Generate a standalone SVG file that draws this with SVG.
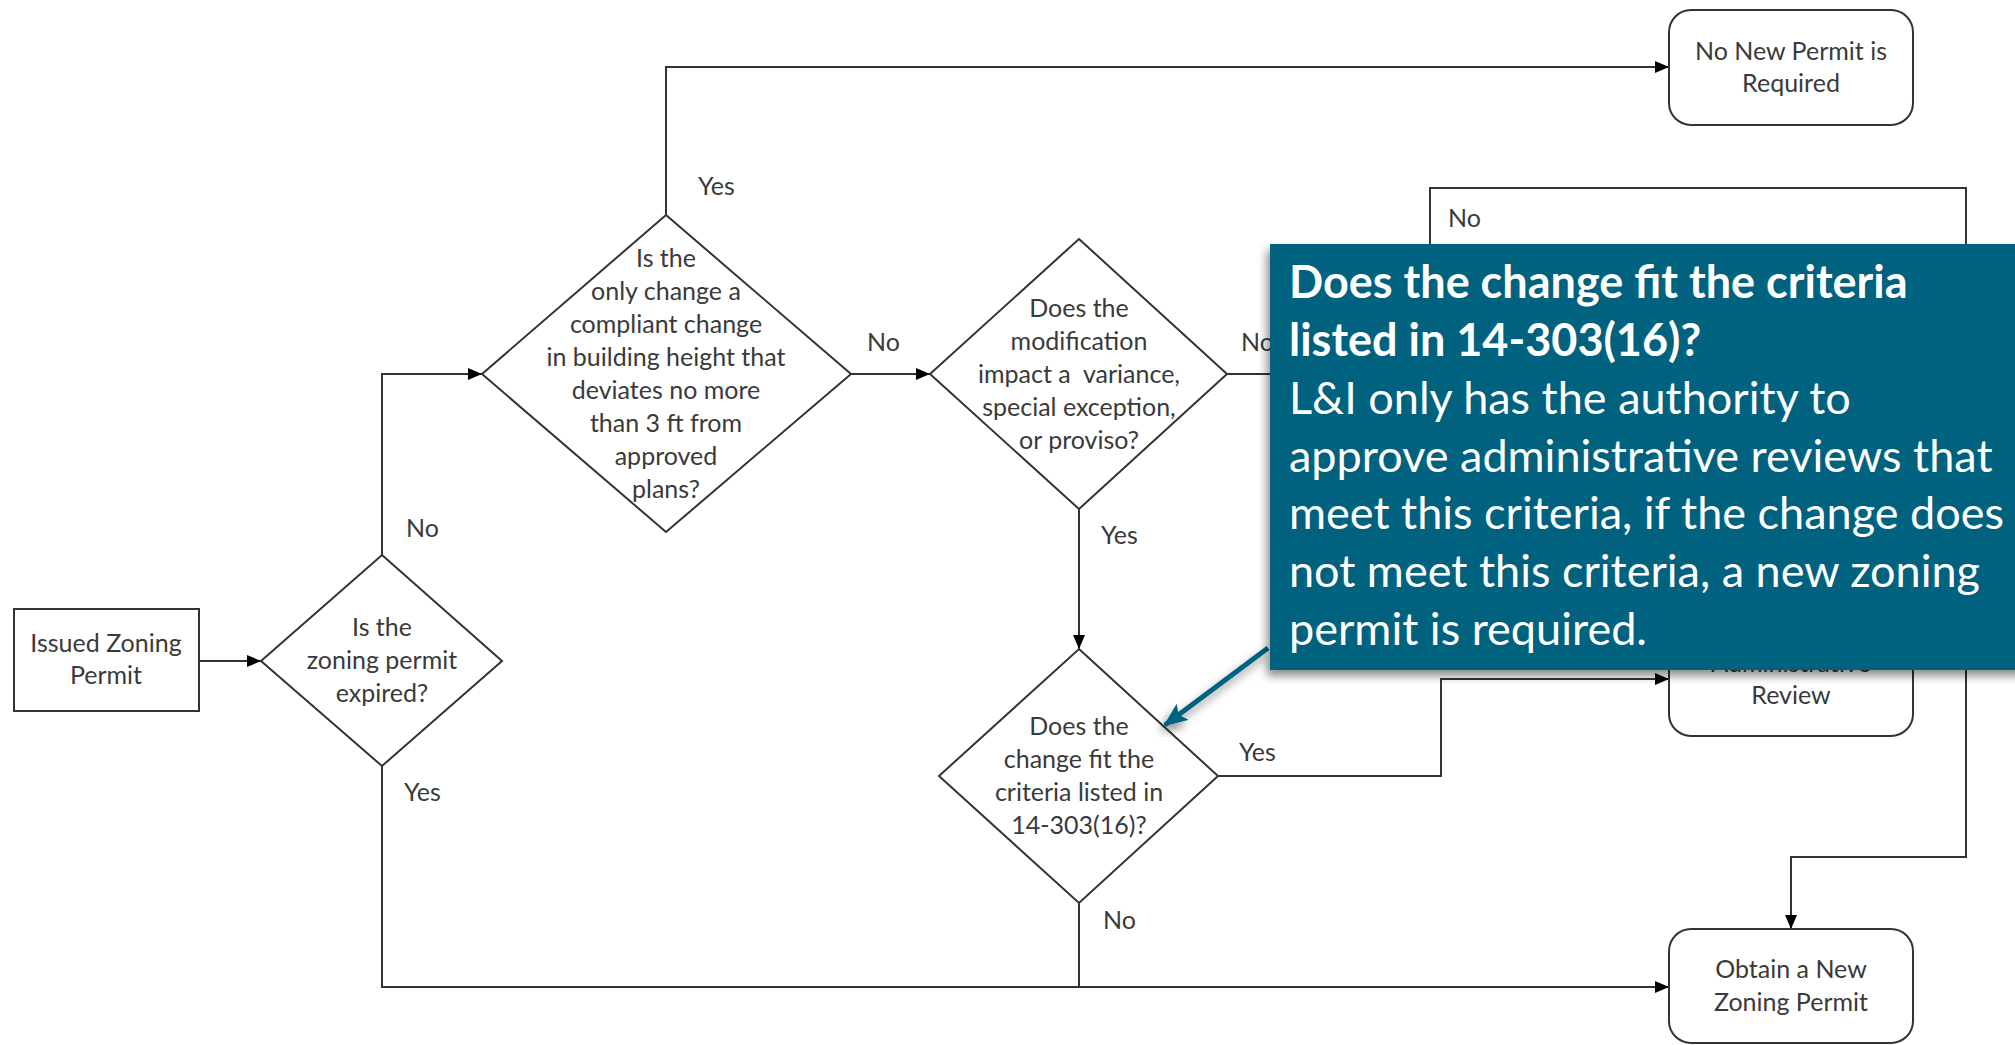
<svg xmlns="http://www.w3.org/2000/svg" width="2015" height="1045" viewBox="0 0 2015 1045">
<style>
.shape{fill:#fff;stroke:#333;stroke-width:2}
.t{font-family:Lato,"Open Sans",sans-serif;font-size:25px;fill:#3a3a3a;text-anchor:middle}
.lbl{font-family:Lato,"Open Sans",sans-serif;font-size:25px;fill:#3a3a3a}
.c{fill:none;stroke:#333;stroke-width:2}
.ct{font-family:Lato,"Open Sans",sans-serif;font-size:45px;fill:#fff}
</style>
<defs>
<marker id="arr" markerWidth="14" markerHeight="12" refX="14" refY="6" orient="auto" markerUnits="userSpaceOnUse"><path d="M0,0 L14,6 L0,12 z" fill="#000"/></marker>
<marker id="tarr" markerWidth="24" markerHeight="20" refX="22" refY="10" orient="auto" markerUnits="userSpaceOnUse"><path d="M0,0 L24,10 L0,20 L5,10 z" fill="#02627e"/></marker>
<filter id="sh" x="-10%" y="-10%" width="120%" height="125%"><feDropShadow dx="-3" dy="6" stdDeviation="5" flood-color="#000" flood-opacity="0.45"/></filter>
</defs>
<rect width="2015" height="1045" fill="#fff"/>

<g id="connectors">
<path class="c" d="M199,661 H261" marker-end="url(#arr)"/>
<path class="c" d="M382,555 V374 H482" marker-end="url(#arr)"/>
<path class="c" d="M382,766 V987 H1669" marker-end="url(#arr)"/>
<path class="c" d="M666,215 V67 H1669" marker-end="url(#arr)"/>
<path class="c" d="M851,374 H930" marker-end="url(#arr)"/>
<path class="c" d="M1227,374 H1300"/>
<path class="c" d="M1079,509 V649" marker-end="url(#arr)"/>
<path class="c" d="M1079,903 V987"/>
<path class="c" d="M1218,776 H1441 V679 H1669" marker-end="url(#arr)"/>
<path class="c" d="M1430,300 V188 H1966 V857 H1791 V929" marker-end="url(#arr)"/>
<text class="lbl" x="698" y="195">Yes</text>
<text class="lbl" x="867" y="351">No</text>
<text class="lbl" x="1241" y="351">No</text>
<text class="lbl" x="406" y="537">No</text>
<text class="lbl" x="404" y="801">Yes</text>
<text class="lbl" x="1101" y="544">Yes</text>
<text class="lbl" x="1239" y="761">Yes</text>
<text class="lbl" x="1103" y="929">No</text>
<text class="lbl" x="1448" y="227">No</text>
</g>

<g id="issued">
<rect class="shape" x="14" y="609" width="185" height="102"/>
<text class="t" x="106" y="652">Issued Zoning</text>
<text class="t" x="106" y="684">Permit</text>
</g>

<g id="expired">
<polygon class="shape" points="382,555 502,661 382,766 261,661"/>
<text class="t" x="382" y="636">Is the</text>
<text class="t" x="382" y="669">zoning permit</text>
<text class="t" x="382" y="702">expired?</text>
</g>

<g id="height">
<polygon class="shape" points="666,215 851,374 666,532 482,374"/>
<text class="t" x="666" y="267">Is the</text>
<text class="t" x="666" y="300">only change a</text>
<text class="t" x="666" y="333">compliant change</text>
<text class="t" x="666" y="366">in building height that</text>
<text class="t" x="666" y="399">deviates no more</text>
<text class="t" x="666" y="432">than 3 ft from</text>
<text class="t" x="666" y="465">approved</text>
<text class="t" x="666" y="498">plans?</text>
</g>

<g id="modification">
<polygon class="shape" points="1079,239 1227,374 1079,509 930,374"/>
<text class="t" x="1079" y="317">Does the</text>
<text class="t" x="1079" y="350">modification</text>
<text class="t" x="1079" y="383" xml:space="preserve">impact a  variance,</text>
<text class="t" x="1079" y="416">special exception,</text>
<text class="t" x="1079" y="449">or proviso?</text>
</g>

<g id="criteria">
<polygon class="shape" points="1079,649 1218,776 1079,903 939,776"/>
<text class="t" x="1079" y="735">Does the</text>
<text class="t" x="1079" y="768">change fit the</text>
<text class="t" x="1079" y="801">criteria listed in</text>
<text class="t" x="1079" y="834">14-303(16)?</text>
</g>

<g id="nonew">
<rect class="shape" x="1669" y="10" width="244" height="115" rx="22"/>
<text class="t" x="1791" y="60">No New Permit is</text>
<text class="t" x="1791" y="92">Required</text>
</g>

<g id="admin">
<rect class="shape" x="1669" y="621" width="244" height="115" rx="22"/>
<text class="t" x="1791" y="672">Administrative</text>
<text class="t" x="1791" y="704">Review</text>
</g>

<g id="obtain">
<rect class="shape" x="1669" y="929" width="244" height="114" rx="22"/>
<text class="t" x="1791" y="978">Obtain a New</text>
<text class="t" x="1791" y="1011">Zoning Permit</text>
</g>

<g id="callout">
<line x1="1268" y1="648" x2="1165" y2="725" stroke="#02627e" stroke-width="5" marker-end="url(#tarr)" filter="url(#sh)"/>
<rect x="1270" y="244" width="760" height="426" fill="#02627e" filter="url(#sh)"/>
<text class="ct" x="1289" y="298" font-weight="bold">Does the change fit the criteria</text>
<text class="ct" x="1289" y="356" font-weight="bold">listed in 14-303(16)?</text>
<text class="ct" x="1289" y="414">L&amp;I only has the authority to</text>
<text class="ct" x="1289" y="472">approve administrative reviews that</text>
<text class="ct" x="1289" y="529">meet this criteria, if the change does</text>
<text class="ct" x="1289" y="587">not meet this criteria, a new zoning</text>
<text class="ct" x="1289" y="645">permit is required.</text>
</g>
</svg>
